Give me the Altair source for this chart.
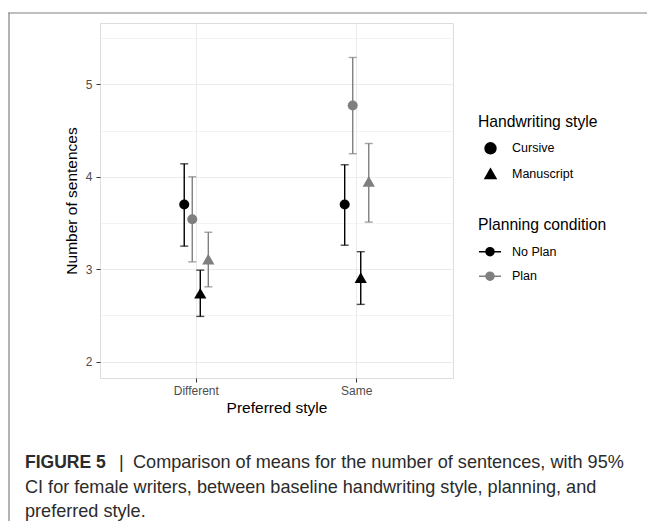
import altair as alt
import pandas as pd

# ---- data ----
preferred = ["Different", "Different", "Different", "Different", "Same", "Same", "Same", "Same"]
handwriting = ["Cursive", "Cursive", "Manuscript", "Manuscript", "Cursive", "Cursive", "Manuscript", "Manuscript"]
planning = ["No Plan", "Plan", "No Plan", "Plan", "No Plan", "Plan", "No Plan", "Plan"]
means = [3.70, 3.54, 2.74, 3.11, 3.70, 4.77, 2.91, 3.95]
lower = [3.25, 3.08, 2.49, 2.81, 3.26, 4.25, 2.62, 3.51]
upper = [4.14, 4.00, 2.99, 3.40, 4.13, 5.29, 3.19, 4.36]

y_ticks = [2, 2.5, 3, 3.5, 4, 4.5, 5, 5.5]
group_order = ["Cursive|No Plan", "Cursive|Plan", "Manuscript|No Plan", "Manuscript|Plan"]

caption_bold = ["FIGURE 5"]
caption_bar = ["|"]
caption_line1 = ["Comparison of means for the number of sentences, with 95%"]
caption_line2 = ["CI for female writers, between baseline handwriting style, planning, and"]
caption_line3 = ["preferred style."]

df = pd.DataFrame({
    "pref": preferred,
    "hw": handwriting,
    "plan": planning,
    "mean": means,
    "lo": lower,
    "hi": upper,
})
df["grp"] = df["hw"] + "|" + df["plan"]

FONT = "Liberation Sans"
GREY = "#7F7F7F"

x_enc = alt.X("pref:N", title="Preferred style",
              scale=alt.Scale(paddingInner=0.8, paddingOuter=0.5),
              axis=alt.Axis(labelAngle=0, grid=True, bandPosition=0.5,
                            gridColor="#EBEBEB", gridWidth=1,
                            domain=False, tickColor="#333333", tickSize=4,
                            labelColor="#4D4D4D", labelFontSize=12, labelPadding=3,
                            titleFontSize=15.5, titleColor="black", titlePadding=4,
                            titleFontWeight="normal", labelFont=FONT, titleFont=FONT))
xo_enc = alt.XOffset("grp:N", sort=group_order,
                     scale=alt.Scale(domain=group_order, paddingInner=0, paddingOuter=0))
y_scale = alt.Scale(domain=[1.824, 5.663], nice=False, zero=False)
y_axis = alt.Axis(values=y_ticks,
                  labelExpr="datum.value % 1 === 0 ? '' + datum.value : ''",
                  tickOpacity={"condition": {"test": "datum.value % 1 === 0", "value": 1}, "value": 0},
                  gridWidth={"condition": {"test": "datum.value % 1 === 0", "value": 1}, "value": 0.6},
                  gridColor="#EBEBEB", domain=False, tickColor="#333333", tickSize=4,
                  labelColor="#4D4D4D", labelFontSize=12, labelPadding=4,
                  titleFontSize=15.5, titleColor="black", titlePadding=6,
                  titleFontWeight="normal", labelFont=FONT, titleFont=FONT)

color_enc = alt.Color("plan:N", title="Planning condition",
                      scale=alt.Scale(domain=["No Plan", "Plan"], range=["black", GREY]),
                      legend=alt.Legend(orient="none", legendX=378, legendY=195,
                                        symbolType="M-1,0L1,0M0.36,0A0.36,0.36,0,1,1,-0.36,0A0.36,0.36,0,1,1,0.36,0Z",
                                        symbolSize=484, symbolStrokeWidth=1.6,
                                        titleFontSize=15.7, titleFont=FONT, titleFontWeight="normal",
                                        titleColor="black", titlePadding=6,
                                        labelFontSize=12.5, labelFont=FONT, labelColor="black",
                                        labelOffset=10, rowPadding=4.5, padding=0))
shape_enc = alt.Shape("hw:N", title="Handwriting style",
                      scale=alt.Scale(domain=["Cursive", "Manuscript"], range=["circle", "triangle-up"]),
                      legend=alt.Legend(orient="none", legendX=378, legendY=91.5,
                                        symbolSize=120, symbolFillColor="black", symbolStrokeColor="black",
                                        symbolOffset=6,
                                        titleFontSize=15.7, titleFont=FONT, titleFontWeight="normal",
                                        titleColor="black", titlePadding=11.6,
                                        labelFontSize=12.5, labelFont=FONT, labelColor="black",
                                        labelOffset=15, rowPadding=8.4, padding=0))

base = alt.Chart(df)

bars = base.mark_rule(strokeWidth=1.4).encode(
    x=x_enc, xOffset=xo_enc,
    y=alt.Y("lo:Q", scale=y_scale, axis=y_axis, title="Number of sentences"),
    y2="hi:Q",
    color=color_enc,
)
cap_lo = base.mark_tick(orient="horizontal", size=8, thickness=1.4).encode(
    x=x_enc, xOffset=xo_enc, y=alt.Y("lo:Q", scale=y_scale), color=color_enc)
cap_hi = base.mark_tick(orient="horizontal", size=8, thickness=1.4).encode(
    x=x_enc, xOffset=xo_enc, y=alt.Y("hi:Q", scale=y_scale), color=color_enc)

pts_c = base.transform_filter(alt.datum.hw == "Cursive").mark_point(
    filled=True, size=100, opacity=1).encode(
    x=x_enc, xOffset=xo_enc, y=alt.Y("mean:Q", scale=y_scale),
    color=color_enc, shape=shape_enc)
pts_m = base.transform_filter(alt.datum.hw == "Manuscript").mark_point(
    filled=True, size=150, opacity=1).encode(
    x=x_enc, xOffset=xo_enc, y=alt.Y("mean:Q", scale=y_scale),
    color=color_enc, shape=shape_enc)

one = pd.DataFrame({"k": [0]})
BORDER = "#808080"
border_top = alt.Chart(one).mark_rule(color=BORDER, strokeWidth=1.2).encode(
    y=alt.value(-10), x=alt.value(-91.6), x2=alt.value(560))
border_left = alt.Chart(one).mark_rule(color=BORDER, strokeWidth=1.2).encode(
    x=alt.value(-91), y=alt.value(-10.6), y2=alt.value(600))

CAP_COLOR = "#2B2B2B"
CAP_SIZE = 18.1
t_bold = alt.Chart(pd.DataFrame({"t": caption_bold})).mark_text(
    align="left", baseline="alphabetic", font=FONT, fontSize=17.5, fontWeight="bold",
    color=CAP_COLOR).encode(x=alt.value(-75), y=alt.value(445), text="t:N")
t_bar = alt.Chart(pd.DataFrame({"t": caption_bar})).mark_text(
    align="left", baseline="alphabetic", font=FONT, fontSize=CAP_SIZE,
    color=CAP_COLOR).encode(x=alt.value(19), y=alt.value(445), text="t:N")
t_l1 = alt.Chart(pd.DataFrame({"t": caption_line1})).mark_text(
    align="left", baseline="alphabetic", font=FONT, fontSize=CAP_SIZE,
    color=CAP_COLOR).encode(x=alt.value(33), y=alt.value(445), text="t:N")
t_l2 = alt.Chart(pd.DataFrame({"t": caption_line2})).mark_text(
    align="left", baseline="alphabetic", font=FONT, fontSize=CAP_SIZE,
    color=CAP_COLOR).encode(x=alt.value(-75), y=alt.value(470), text="t:N")
t_l3 = alt.Chart(pd.DataFrame({"t": caption_line3})).mark_text(
    align="left", baseline="alphabetic", font=FONT, fontSize=CAP_SIZE,
    color=CAP_COLOR).encode(x=alt.value(-75), y=alt.value(494), text="t:N")

chart = alt.layer(
    border_top, border_left,
    pts_c, pts_m, bars, cap_lo, cap_hi,
    t_bold, t_bar, t_l1, t_l2, t_l3,
).resolve_scale(
    x="shared"
).properties(
    width=353, height=355,
    autosize=alt.AutoSizeParams(type="none"),
    padding={"left": 92, "top": 15, "right": 194, "bottom": 143},
).configure_view(
    stroke="#333333", strokeWidth=1
).configure(
    font=FONT, background="white"
)

chart.save("out.html", embed_options={"renderer": "svg", "actions": False})
